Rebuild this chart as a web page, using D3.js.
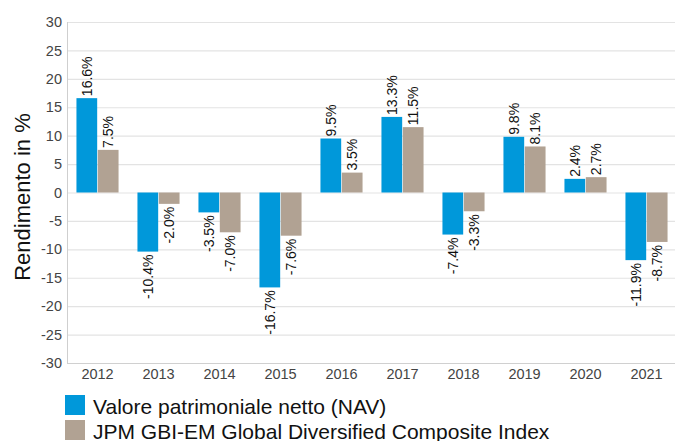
<!DOCTYPE html>
<html><head><meta charset="utf-8">
<script src="https://cdn.jsdelivr.net/npm/d3@7"></script>
<style>body{margin:0;background:#fff;overflow:hidden}svg{display:block;font-family:"Liberation Sans",Arial,sans-serif}</style>
</head><body><svg id="c" width="675" height="441"></svg>
<script>
const years = ["2012","2013","2014","2015","2016","2017","2018","2019","2020","2021"];
const nav = [16.6,-10.4,-3.5,-16.7,9.5,13.3,-7.4,9.8,2.4,-11.9];
const bench = [7.5,-2.0,-7.0,-7.6,3.5,11.5,-3.3,8.1,2.7,-8.7];
const seriesNames = ["Valore patrimoniale netto (NAV)","JPM GBI-EM Global Diversified Composite Index"];
const colors = ["#0098da","#b1a293"];
const yTicks = [30,25,20,15,10,5,0,-5,-10,-15,-20,-25,-30];

const svg = d3.select("#c");
const x = d3.scaleBand().domain(years).range([67,677]).paddingInner(0.31).paddingOuter(0.155);
const y = d3.scaleLinear().domain([-30,30]).range([363,22]);
const xs = d3.scaleBand().domain([0,1]).range([0,x.bandwidth()]).paddingInner(0.03);
const fmt = v => String(v).replace("\u2212","-");

// gridlines
svg.append("g").selectAll("line").data(yTicks).join("line")
  .attr("x1",67).attr("x2",675).attr("y1",d=>y(d)+0.5).attr("y2",d=>y(d)+0.5)
  .attr("stroke",d=>d===-30?"#d0d0d0":"#e3e3e3").attr("stroke-width",1.2);
// left axis line
svg.append("line").attr("x1",67.5).attr("x2",67.5).attr("y1",22).attr("y2",364).attr("stroke","#cfcfcf");

// y axis
const ya = svg.append("g").attr("transform","translate(67,0)").call(d3.axisLeft(y).tickValues(yTicks).tickFormat(fmt).tickSize(0).tickPadding(5));
ya.select(".domain").remove();
ya.selectAll("text").attr("font-size",14.5).attr("fill","#444").attr("font-family","Liberation Sans, Arial, sans-serif");

// x axis
const xa = svg.append("g").attr("transform","translate(0,363)").call(d3.axisBottom(x).tickSize(0).tickPadding(6));
xa.select(".domain").remove();
xa.selectAll("text").attr("font-size",14.5).attr("fill","#444").attr("font-family","Liberation Sans, Arial, sans-serif");

// y title
svg.append("text").attr("transform","translate(22,197) rotate(-90)").attr("text-anchor","middle")
  .attr("dominant-baseline","central")
  .attr("font-size",22).attr("fill","#111").text("Rendimento in %");

const series = [nav, bench];
series.forEach((vals,si)=>{
  const g = svg.append("g");
  g.selectAll("rect").data(vals).join("rect")
    .attr("x",(d,i)=>x(years[i])+xs(si))
    .attr("width",xs.bandwidth())
    .attr("y",d=>y(Math.max(0,d)))
    .attr("height",d=>Math.abs(y(d)-y(0)))
    .attr("fill",colors[si]);
  g.selectAll("text").data(vals).join("text")
    .attr("transform",(d,i)=>{
      const cx = x(years[i])+xs(si)+xs.bandwidth()/2;
      const yy = d>=0 ? y(d)-2 : y(d)+3;
      return `translate(${cx},${yy}) rotate(-90)`;
    })
    .attr("text-anchor",d=>d>=0?"start":"end")
    .attr("dominant-baseline","central")
    .attr("font-size",14).attr("fill","#111")
    .text(d=>d.toFixed(1)+"%");
});

// legend
const lg = svg.append("g");
seriesNames.forEach((n,i)=>{
  lg.append("rect").attr("x",65).attr("y",395+i*25).attr("width",20).attr("height",20).attr("fill",colors[i]);
  lg.append("text").attr("x",93).attr("y",406+i*25).attr("dominant-baseline","central")
    .attr("font-size",21).attr("fill","#111").text(n);
});
</script></body></html>
